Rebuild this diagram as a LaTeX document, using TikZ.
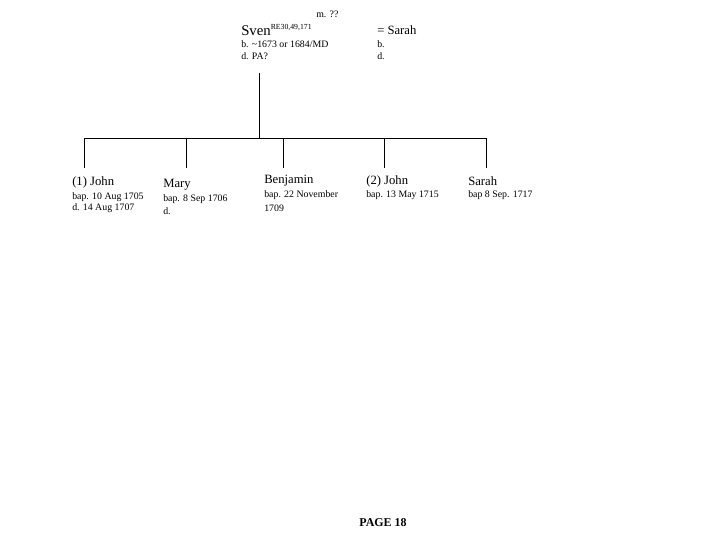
\documentclass[tikz,border=0pt]{standalone}
\usepackage{fontspec}
\setmainfont{Liberation Serif}
\usepackage{tikz}
\usetikzlibrary{positioning, calc}

\begin{document}
\begin{tikzpicture}[
  x=0.025cm, y=-0.025cm,
  pname/.style={anchor=west, inner sep=0pt, font=\fontsize{9}{10}\selectfont},
  pdetail/.style={anchor=west, inner sep=0pt, font=\fontsize{7}{8}\selectfont},
  tree/.style={line width=0.6pt, color=black},
]
\useasboundingbox (0,0) rectangle (720,540);

% ---- Parents ----
\node[pdetail] (marr) at (316, 14) {m. ??};
\node[pname, font=\fontsize{10.5}{12}\selectfont] (sven) at (241, 30)
  {Sven\raisebox{0.9ex}{\fontsize{5.5}{6}\selectfont RE30,49,171}};
\node[pdetail] (svenb) at (241, 44) {b. \textasciitilde1673 or 1684/MD};
\node[pdetail] (svend) at (241, 56) {d. PA?};
\node[pname] (sarah) at (377, 30) {= Sarah};
\node[pdetail] (sarahb) at (377, 44) {b.};
\node[pdetail] (sarahd) at (377, 56) {d.};

% ---- Stem and bus ----
\coordinate (stem) at (259, 73);
\coordinate (bus) at (259, 138);
\coordinate (drop1) at (84, 168);
\coordinate (drop2) at (186, 168);
\coordinate (drop3) at (283, 168);
\coordinate (drop4) at (384, 168);
\coordinate (drop5) at (486, 168);

% ---- Children ----
\node[pname] (john1) at (72, 182) {(1) John};
\node[pdetail] (john1b) at (72, 197) {bap. 10 Aug 1705};
\node[pdetail] (john1d) at (72, 208) {d. 14 Aug 1707};

\node[pname] (mary) at (163, 185) {Mary};
\node[pdetail] (maryb) at (163, 199) {bap. 8 Sep 1706};
\node[pdetail] (maryd) at (163, 211) {d.};

\node[pname] (benj) at (264, 181) {Benjamin};
\node[pdetail] (benjb) at (264, 195) {bap. 22 November};
\node[pdetail] (benjy) at (264, 208) {1709};

\node[pname] (john2) at (366, 181) {(2) John};
\node[pdetail] (john2b) at (366, 195) {bap. 13 May 1715};

\node[pname] (sarah2) at (468, 181) {Sarah};
\node[pdetail] (sarah2b) at (468, 195) {bap 8 Sep. 1717};

% ---- Lines ----
\draw[tree] (stem) -- (bus);
\draw[tree] (bus -| drop1) -- (bus -| drop5);
\foreach \d in {drop1, drop2, drop3, drop4, drop5}
  \draw[tree] (bus -| \d) -- (\d);

% ---- Footer ----
\node[font=\fontsize{8.5}{10}\selectfont\bfseries, inner sep=0pt] (page) at (383, 523) {PAGE 18};

\end{tikzpicture}
\end{document}
